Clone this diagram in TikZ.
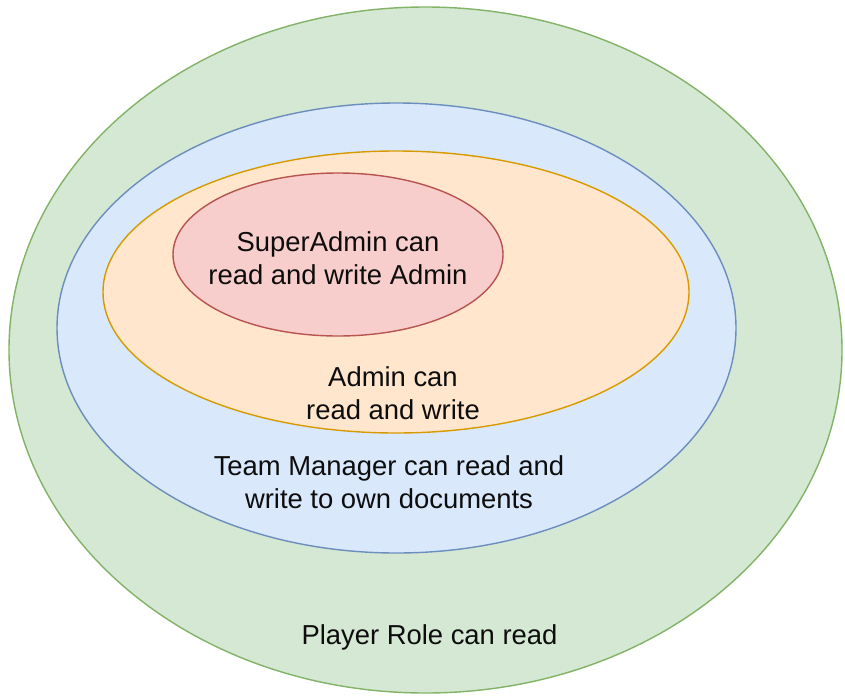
\documentclass[tikz,border=0pt]{standalone}
\usepackage{fontspec}
\setmainfont{Liberation Sans}
\usetikzlibrary{backgrounds}

\definecolor{playerfill}{HTML}{D5E8D4}
\definecolor{playerline}{HTML}{82B366}
\definecolor{managerfill}{HTML}{DAE8FC}
\definecolor{managerline}{HTML}{6C8EBF}
\definecolor{adminfill}{HTML}{FFE6CC}
\definecolor{adminline}{HTML}{D79B00}
\definecolor{superfill}{HTML}{F8CECC}
\definecolor{superline}{HTML}{B85450}

\begin{document}
\begin{tikzpicture}[
	role/.style={line width=0.8pt},
	caption/.style={align=center, font=\fontsize{15.6}{19}\selectfont, text=black!95}
	]
	\useasboundingbox (0,0) rectangle (16.9,13.9);
	
	%role ellipses, outer to inner
	\filldraw[role, fill=playerfill, draw=playerline] (8.51,6.9) ellipse (8.33 and 6.86);		%player
	\filldraw[role, fill=managerfill, draw=managerline] (7.93,7.34) ellipse (6.79 and 4.5);	%team manager
	\filldraw[role, fill=adminfill, draw=adminline] (7.92,8.06) ellipse (5.86 and 2.82);		%admin
	\filldraw[role, fill=superfill, draw=superline] (6.76,8.81) ellipse (3.3 and 1.63);		%superadmin
	
	%captions
	\node[caption] (superadmin) at (6.76,8.74) {SuperAdmin can\\read and write Admin};
	\node[caption] (admin) at (7.86,6.04) {Admin can\\read and write};
	\node[caption] (manager) at (7.78,4.26) {Team Manager can read and\\write to own documents};
	\node[caption] (player) at (8.59,1.16) {Player Role can read};
\end{tikzpicture}
\end{document}
